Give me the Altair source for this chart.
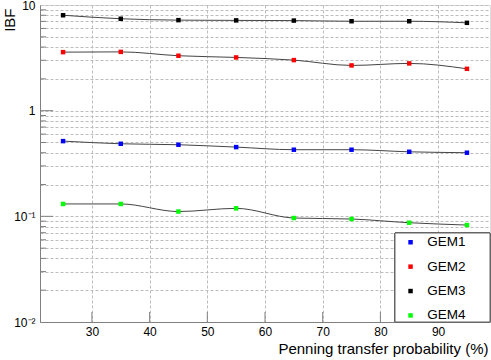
import altair as alt
import pandas as pd

# Data
x_vals = [25, 35, 45, 55, 65, 75, 85, 95]
gem1 = [0.515, 0.486, 0.476, 0.452, 0.427, 0.427, 0.408, 0.400]
gem2 = [3.58, 3.60, 3.31, 3.19, 3.01, 2.68, 2.80, 2.49]
gem3 = [8.00, 7.41, 7.19, 7.15, 7.12, 7.02, 7.02, 6.78]
gem4 = [0.131, 0.131, 0.111, 0.119, 0.0964, 0.0943, 0.0870, 0.0827]
series_names = ["GEM1", "GEM2", "GEM3", "GEM4"]
series_colors = ["#0000ff", "#ff0000", "#000000", "#00ff00"]

x_ticks = [30, 40, 50, 60, 70, 80, 90]
y_major = [0.01, 0.1, 1, 10]
y_minor = [round(m * d, 4) for d in (0.01, 0.1, 1) for m in range(2, 10)]

rows = []
for name, vals in zip(series_names, [gem1, gem2, gem3, gem4]):
    for xv, yv in zip(x_vals, vals):
        rows.append({"p": xv, "ibf": yv, "series": name})
df = pd.DataFrame(rows)

W, H = 450, 317
xscale = alt.Scale(domain=[21, 99], nice=False, zero=False)
yscale = alt.Scale(type="log", domain=[0.01, 10], nice=False)

label_expr = ("datum.value == 10 ? '10' : datum.value == 1 ? '1' : "
              "(abs(datum.value - 0.1) < 1e-9) ? '10⁻¹' : "
              "(abs(datum.value - 0.01) < 1e-9) ? '10⁻²' : ''")

x_axis = alt.Axis(
    values=x_ticks, grid=True, gridDash=[3, 2], gridColor="#bdbdbd",
    ticks=False, domainColor="#808080", labelFontSize=12, labelPadding=4,
    labelColor="#000", labelFont="Liberation Sans",
    title="Penning transfer probability (%)", titleFontSize=15,
    titleFontWeight="normal", titleFont="Liberation Sans", titleColor="#000",
    titleAnchor="end", titleAlign="right", titleBaseline="alphabetic",
    titleX=448, titleY=31,
)
y_axis = alt.Axis(
    values=y_major + y_minor, labelExpr=label_expr, grid=True,
    gridDash=[3, 2], gridColor="#bdbdbd", ticks=False,
    domainColor="#808080", labelFontSize=12, labelPadding=5,
    labelColor="#000", labelFont="Liberation Sans",
    title="IBF", titleFontSize=15, titleFontWeight="normal",
    titleFont="Liberation Sans", titleColor="#000", titleAngle=270,
    titleAlign="right", titleBaseline="middle", titleX=-31, titleY=3,
)

lines = alt.Chart(df).mark_line(
    interpolate="monotone", color="#444", strokeWidth=1
).encode(
    x=alt.X("p:Q", scale=xscale, axis=x_axis),
    y=alt.Y("ibf:Q", scale=yscale, axis=y_axis),
    detail="series:N",
)

legend_box = alt.Chart(df).mark_rect(
    fill="white", stroke="#666", strokeWidth=1
).encode(
    x=alt.value(355), x2=alt.value(W), y=alt.value(228), y2=alt.value(H)
)

points = alt.Chart(df).mark_point(
    shape="square", filled=True, size=20, opacity=1
).encode(
    x=alt.X("p:Q", scale=xscale, axis=x_axis),
    y=alt.Y("ibf:Q", scale=yscale, axis=y_axis),
    color=alt.Color(
        "series:N",
        scale=alt.Scale(domain=series_names, range=series_colors),
        legend=alt.Legend(
            title=None, orient="none", legendX=363.8, legendY=230.5,
            padding=0, rowPadding=9.4, symbolType="square", symbolSize=20,
            labelOffset=10, labelFontSize=13.5,
            labelFont="Liberation Sans", labelColor="#000",
        ),
    ),
)

ymaj_df = pd.DataFrame({"ibf": [0.1, 1]})
ymin_df = pd.DataFrame({"ibf": y_minor})
xt_df = pd.DataFrame({"p": x_ticks})

ytick_major = alt.Chart(ymaj_df).mark_rule(color="#808080").encode(
    y=alt.Y("ibf:Q", scale=yscale, axis=y_axis), x=alt.value(0), x2=alt.value(13)
)
ytick_minor = alt.Chart(ymin_df).mark_rule(color="#808080").encode(
    y=alt.Y("ibf:Q", scale=yscale, axis=y_axis), x=alt.value(0), x2=alt.value(6)
)
xtick = alt.Chart(xt_df).mark_rule(color="#808080").encode(
    x=alt.X("p:Q", scale=xscale, axis=x_axis), y=alt.value(H), y2=alt.value(H - 10)
)

chart = alt.layer(lines, ytick_major, ytick_minor, xtick, legend_box, points).properties(
    width=W, height=H,
    autosize=alt.AutoSizeParams(type="none"),
    padding={"left": 40, "top": 5, "right": 1, "bottom": 38},
).configure_view(stroke="#808080", strokeWidth=1).configure(background="white")

chart.save("out.html", embed_options={"renderer": "svg", "actions": False})
